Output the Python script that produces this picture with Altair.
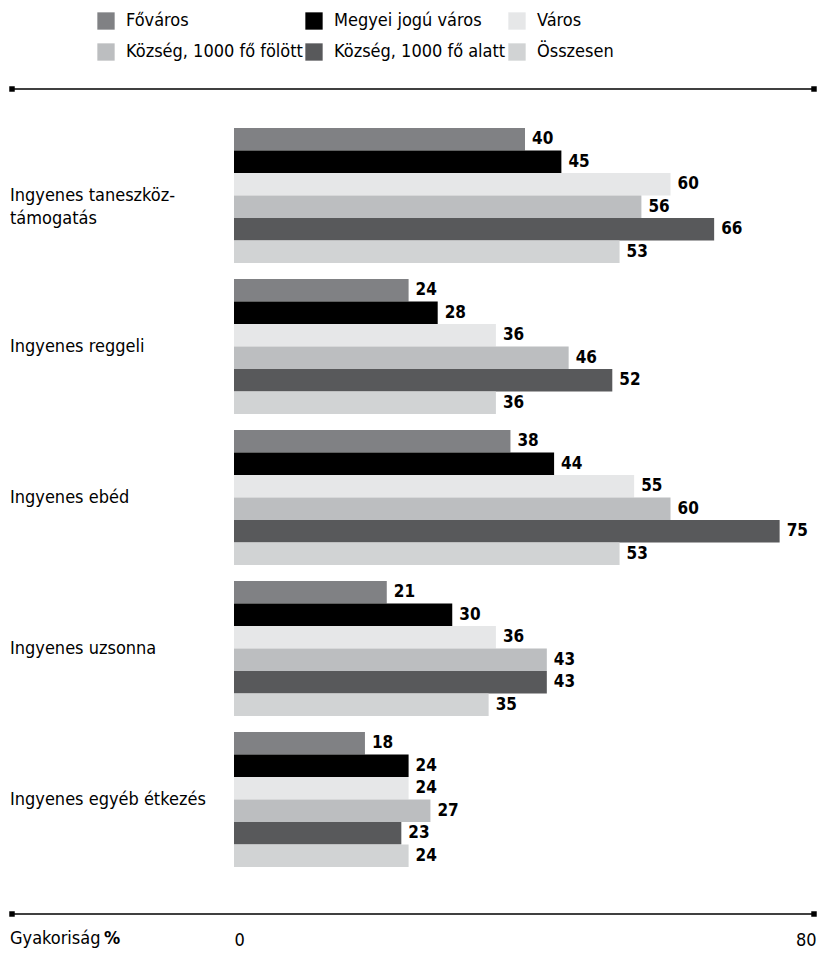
import altair as alt
import pandas as pd

categories = [
    "Ingyenes taneszköz-\ntámogatás",
    "Ingyenes reggeli",
    "Ingyenes ebéd",
    "Ingyenes uzsonna",
    "Ingyenes egyéb étkezés",
]
series = [
    "Főváros",
    "Megyei jogú város",
    "Város",
    "Község, 1000 fő fölött",
    "Község, 1000 fő alatt",
    "Összesen",
]
fovaros = [40, 24, 38, 21, 18]
megyei = [45, 28, 44, 30, 24]
varos = [60, 36, 55, 36, 24]
kozseg_folott = [56, 46, 60, 43, 27]
kozseg_alatt = [66, 52, 75, 43, 23]
osszesen = [53, 36, 53, 35, 24]
colors = ["#808184", "#000000", "#e6e7e8", "#bcbec0", "#58595b", "#d1d3d4"]
x_ticks = [0, 80]
axis_title = "Gyakoriság"
axis_unit = "%"

all_values = [fovaros, megyei, varos, kozseg_folott, kozseg_alatt, osszesen]
rows = []
for s, vals in zip(series, all_values):
    for c, v in zip(categories, vals):
        rows.append({"cat": c, "series": s, "value": v})
df = pd.DataFrame(rows)
cats_df = pd.DataFrame({"cat": categories})

FONT = "'DejaVu Sans Condensed', 'Roboto Condensed', 'Liberation Sans', sans-serif"
FS = 18

W = 582
H = 755
yscale = alt.Scale(domain=categories, paddingInner=0.106, paddingOuter=0.053)
xscale = alt.Scale(domain=[0, 80], nice=False, zero=True)

base = alt.Chart(df)

bars = base.mark_bar().encode(
    x=alt.X("value:Q", scale=xscale,
            axis=alt.Axis(values=x_ticks, domain=False, ticks=False, grid=False,
                          labelFlush=True, labelPadding=56, labelFontSize=FS,
                          labelFont=FONT, labelColor="#000", title=None)),
    y=alt.Y("cat:N", scale=yscale, axis=None),
    yOffset=alt.YOffset("series:N", sort=series, scale=alt.Scale(paddingInner=0, paddingOuter=0)),
    color=alt.Color("series:N", scale=alt.Scale(domain=series, range=colors),
                    legend=alt.Legend(orient="none", legendX=-137, legendY=-108,
                                      direction="horizontal",
                                      columns=3, title=None, symbolType="square",
                                      symbolSize=300, symbolStrokeWidth=0,
                                      labelFont=FONT, labelFontSize=FS, labelColor="#000",
                                      labelLimit=400,
                                      labelOffset=11, columnPadding=2, rowPadding=13,
                                      symbolOpacity=1)),
)

labels = base.mark_text(align="left", baseline="middle", dx=7, font=FONT,
                        fontWeight="bold", fontSize=17, color="#000").encode(
    x=alt.X("value:Q", scale=xscale),
    y=alt.Y("cat:N", scale=yscale, axis=None),
    yOffset=alt.YOffset("series:N", sort=series),
    text="value:Q",
)

cat_labels = alt.Chart(cats_df).mark_text(align="left", baseline="middle", font=FONT,
                                          fontSize=FS, color="#000", lineBreak="\n",
                                          lineHeight=23).encode(
    x=alt.value(-224),
    y=alt.Y("cat:N", scale=yscale, axis=None),
    text="cat:N",
)

one = cats_df.head(1)
XL, XR = -222, W - 2
YT, YB = -31, 794
line_top = alt.Chart(one).mark_rule(color="#000", strokeWidth=1.5).encode(
    x=alt.value(XL), x2=alt.value(XR), y=alt.value(YT))
line_bot = alt.Chart(one).mark_rule(color="#000", strokeWidth=1.5).encode(
    x=alt.value(XL), x2=alt.value(XR), y=alt.value(YB))

sq_tl = alt.Chart(one).mark_square(size=30, color="#000", opacity=1).encode(
    x=alt.value(XL), y=alt.value(YT))
sq_tr = alt.Chart(one).mark_square(size=30, color="#000", opacity=1).encode(
    x=alt.value(XR), y=alt.value(YT))
sq_bl = alt.Chart(one).mark_square(size=30, color="#000", opacity=1).encode(
    x=alt.value(XL), y=alt.value(YB))
sq_br = alt.Chart(one).mark_square(size=30, color="#000", opacity=1).encode(
    x=alt.value(XR), y=alt.value(YB))

title_txt = alt.Chart(pd.DataFrame({"t": [axis_title]})).mark_text(
    align="left", baseline="middle", font=FONT, fontSize=FS, color="#000").encode(
    x=alt.value(-224), y=alt.value(819), text="t:N")
unit_txt = alt.Chart(pd.DataFrame({"t": [axis_unit]})).mark_text(
    align="left", baseline="middle", font=FONT, fontSize=FS, fontWeight="bold",
    color="#000").encode(
    x=alt.value(-130), y=alt.value(819), text="t:N")

chart = alt.layer(bars, labels, cat_labels, line_top, line_bot,
                  sq_tl, sq_tr, sq_bl, sq_br, title_txt, unit_txt).properties(
    width=W, height=H,
    background="white",
    autosize=alt.AutoSizeParams(type="none"),
    padding={"left": 226, "top": 112, "right": 2, "bottom": 77},
).configure_view(strokeWidth=0, stroke="transparent")

chart.save("out.html", embed_options={"renderer": "svg", "actions": False})
